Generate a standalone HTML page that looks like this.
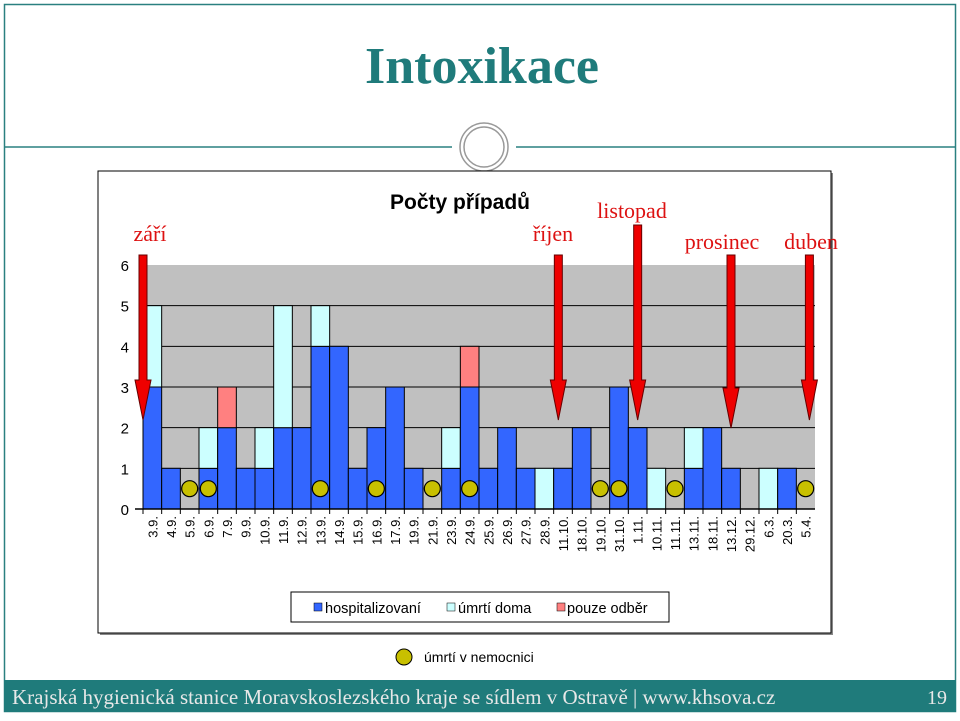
<!DOCTYPE html>
<html><head><meta charset="utf-8"><style>
body{margin:0;background:#fff;width:960px;height:716px;overflow:hidden;font-family:"Liberation Sans",sans-serif}
</style></head><body>
<svg width="960" height="716" xmlns="http://www.w3.org/2000/svg">
<rect x="4.5" y="4.5" width="951" height="707" fill="#fff" stroke="#2a8080" stroke-width="1.5"/>
<text x="482" y="83" text-anchor="middle" font-family="Liberation Serif, serif" font-weight="bold" font-size="52" fill="#1f7b7b">Intoxikace</text>
<line x1="4" y1="147" x2="452" y2="147" stroke="#2a8080" stroke-width="1.5"/>
<line x1="516" y1="147" x2="956" y2="147" stroke="#2a8080" stroke-width="1.5"/>
<circle cx="484" cy="147" r="24" fill="#fff" stroke="#999" stroke-width="1.5"/>
<circle cx="484" cy="147" r="20" fill="none" stroke="#999" stroke-width="1.5"/>
<rect x="100" y="173" width="733" height="462" fill="#888"/>
<rect x="98" y="171" width="733" height="462" fill="#fff" stroke="#000" stroke-width="1"/>
<text x="460" y="209" text-anchor="middle" font-weight="bold" font-size="21" fill="#000">Počty případů</text>
<g id="chart"></g>
<rect x="291" y="592" width="378" height="30" fill="#fff" stroke="#000"/>
<rect x="314" y="603" width="8" height="8" fill="#3366ff" stroke="#000" stroke-width="0.5"/>
<text x="325" y="613" font-size="14.5">hospitalizovaní</text>
<rect x="447" y="603" width="8" height="8" fill="#ccffff" stroke="#000" stroke-width="0.5"/>
<text x="458" y="613" font-size="14.5">úmrtí doma</text>
<rect x="557" y="603" width="8" height="8" fill="#ff8080" stroke="#000" stroke-width="0.5"/>
<text x="567" y="613" font-size="14.5">pouze odběr</text>
<circle cx="404" cy="657" r="8" fill="#c8c000" stroke="#000"/>
<text x="424" y="662" font-size="14">úmrtí v nemocnici</text>
<rect x="4" y="680" width="952" height="32" fill="#1f7b7b"/>
<text x="12" y="704" font-family="Liberation Serif, serif" font-size="21" fill="#e8e8e8">Krajská hygienická stanice Moravskoslezského kraje se sídlem v Ostravě | www.khsova.cz</text>
<text x="947" y="704" text-anchor="end" font-family="Liberation Serif, serif" font-size="20" fill="#e8e8e8">19</text>
</svg>
<script>
const categories=["3.9.","4.9.","5.9.","6.9.","7.9.","9.9.","10.9.","11.9.","12.9.","13.9.","14.9.","15.9.","16.9.","17.9.","19.9.","21.9.","23.9.","24.9.","25.9.","26.9.","27.9.","28.9.","11.10.","18.10.","19.10.","31.10.","1.11.","10.11.","11.11.","13.11.","18.11.","13.12.","29.12.","6.3.","20.3.","5.4."];
const hosp=[3,1,0,1,2,1,1,2,2,4,4,1,2,3,1,0,1,3,1,2,1,0,1,2,0,3,2,0,0,1,2,1,0,0,1,0];
const doma=[2,0,0,1,0,0,1,3,0,1,0,0,0,0,0,0,1,0,0,0,0,1,0,0,0,0,0,1,0,1,0,0,0,1,0,0];
const odber=[0,0,0,0,1,0,0,0,0,0,0,0,0,0,0,0,0,1,0,0,0,0,0,0,0,0,0,0,0,0,0,0,0,0,0,0];
const deaths=["5.9.","6.9.","13.9.","16.9.","21.9.","24.9.","19.10.","31.10.","11.11.","5.4."];
const yTicks=[0,1,2,3,4,5,6];
const arrowCats=["3.9.","11.10.","1.11.","13.12.","5.4."];
const arrowLabels=["září","říjen","listopad","prosinec","duben"];
const NS="http://www.w3.org/2000/svg";
const g=document.getElementById('chart');
const X0=143,X1=815,Y0=509,Y6=265;
const bw=(X1-X0)/categories.length;
const xs=i=>X0+i*bw;
const ys=v=>Y0-(v/6)*(Y0-Y6);
function mk(t,a){const e=document.createElementNS(NS,t);for(const k in a)e.setAttribute(k,a[k]);g.appendChild(e);return e;}
let e=mk('rect',{x:X0,y:Y6,width:X1-X0,height:Y0-Y6,fill:'#c0c0c0'});


yTicks.forEach(v=>{
 if(v>0&&v<6){let l=mk('line',{x1:X0,x2:X1,y1:ys(v),y2:ys(v),stroke:'#000','stroke-width':1});
 
 }
 let t=mk('text',{x:129,y:ys(v)+6,'text-anchor':'end','font-size':15,fill:'#000'});t.textContent=v;
 
 
});
categories.forEach((c,i)=>{
 const segs=[[hosp[i],'#3366ff'],[doma[i],'#ccffff'],[odber[i],'#ff8080']];
 let base=0;
 segs.forEach(([v,col],k)=>{if(v>0){let r=mk('rect',{x:xs(i),y:ys(base+v),width:bw,height:ys(base)-ys(base+v),fill:col,stroke:'#000','stroke-width':1});
  
  
  base+=v;}});
 let tk=mk('line',{x1:xs(i),x2:xs(i),y1:Y0,y2:Y0+5,stroke:'#000'});
 
 
 const cx=xs(i)+bw/2+5;
 let t=mk('text',{x:cx,y:516,'text-anchor':'end','font-size':13,transform:`rotate(-90 ${cx} 516)`});t.textContent=c;
 
 
});
let ax=mk('line',{x1:X0-8,x2:X1,y1:Y0,y2:Y0,stroke:'#000','stroke-width':1.5});


deaths.forEach(c=>{const i=categories.indexOf(c);
 let d=mk('circle',{cx:xs(i)+bw/2,cy:ys(0.5),r:8,fill:'#c8c000',stroke:'#000','stroke-width':1.2});
 
 });
const arrowDx=[0,0.25,0.5,0.5,0.7];
const arrowTop=[255,255,225,255,255];
const arrowTip=[420,420,420,428,420];
const labelPos=[[150,241],[553,241],[632,218],[722,249],[811,249]];
arrowCats.forEach((c,k)=>{const i=categories.indexOf(c);const cx=xs(i)+arrowDx[k]*bw;const tip=arrowTip[k];
 let p=mk('path',{d:`M${cx-4},${arrowTop[k]} L${cx+4},${arrowTop[k]} L${cx+4},${tip-40} L${cx+8},${tip-40} L${cx},${tip} L${cx-8},${tip-40} L${cx-4},${tip-40} Z`,fill:'#ee0000',stroke:'#600',"stroke-width":1});
 
 
 let t=mk('text',{x:labelPos[k][0],y:labelPos[k][1],'text-anchor':'middle','font-family':'Liberation Serif, serif','font-size':22,fill:'#dd1111'});t.textContent=arrowLabels[k];
 
 
});
</script>
</body></html>
